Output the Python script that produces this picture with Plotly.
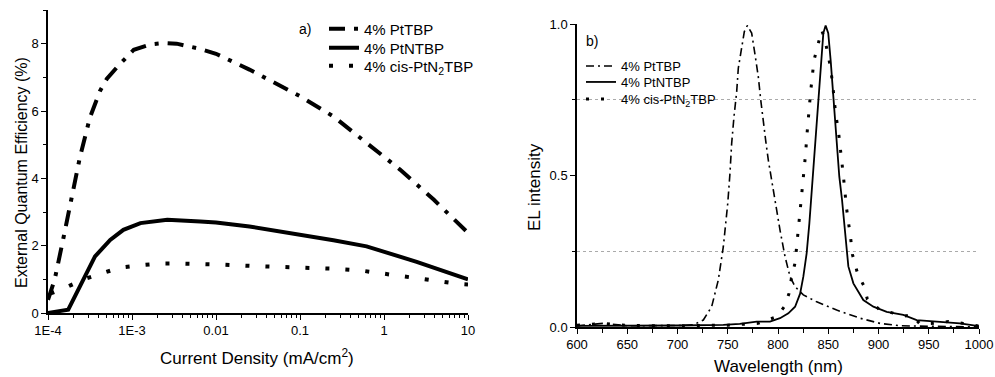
import plotly.graph_objects as go

# ---------------- data: panel a) EQE vs current density ----------------
j_pttbp = [1.0e-4, 1.2e-4, 1.51e-4, 1.91e-4, 2.4e-4, 3.16e-4, 4.17e-4, 5.0e-4, 6.9e-4, 1.05e-3,
           1.66e-3, 2.4e-3, 3.4e-3, 6.3e-3, 0.01, 0.025, 0.1, 0.25, 0.62, 1.55, 3.9, 10]
eqe_pttbp = [0.39, 0.99, 2.17, 3.40, 4.63, 5.81, 6.60, 6.95, 7.35, 7.82,
             7.98, 8.02, 8.0, 7.85, 7.70, 7.23, 6.44, 5.84, 5.05, 4.26, 3.37, 2.38]

j_ptntbp = [1.0e-4, 1.26e-4, 1.74e-4, 2.4e-4, 3.63e-4, 5.5e-4, 7.9e-4, 1.26e-3, 2.63e-3, 6.5e-3,
            0.01, 0.025, 0.1, 0.25, 0.62, 1.0, 2.45, 10]
eqe_ptntbp = [0.0, 0.03, 0.1, 0.79, 1.68, 2.17, 2.47, 2.67, 2.77, 2.72,
              2.69, 2.57, 2.33, 2.16, 1.98, 1.82, 1.52, 1.0]

j_cis = [1.07e-4, 1.58e-4, 2.57e-4, 4.27e-4, 7.2e-4, 1.26e-3, 2.19e-3, 3.7e-3, 6.2e-3, 0.0112,
         0.032, 0.095, 0.28, 0.5, 0.85, 1.48, 2.5, 4.3, 7.4, 10]
eqe_cis = [0.58, 0.74, 0.99, 1.18, 1.35, 1.42, 1.47, 1.47, 1.46, 1.44,
           1.39, 1.36, 1.31, 1.27, 1.19, 1.11, 1.04, 0.94, 0.87, 0.85]

x_tickvals = [1e-4, 1e-3, 0.01, 0.1, 1, 10]
x_ticktext = ["1E-4", "1E-3", "0.01", "0.1", "1", "10"]
x_minor = [m * 10.0 ** e for e in range(-4, 1) for m in range(2, 10)]

# ---------------- data: panel b) EL spectra ----------------
wl_pttbp = [600, 626, 650, 680, 700, 715.7, 725.7, 734, 740.6, 745.6, 750, 752.2, 753.9, 756.2,
            758.9, 760.5, 763.9, 766.5, 769.5, 773.8, 777.1, 780.4, 782.8, 785.4, 788.1, 790.4,
            792.5, 797, 802, 807, 812, 817, 825.2, 838.5, 858.4, 881.6, 901.5, 921.4, 950, 1000]
el_pttbp = [0.004, 0.012, 0.004, 0.004, 0.005, 0.007, 0.023, 0.067, 0.155, 0.265, 0.408, 0.507,
            0.606, 0.694, 0.777, 0.854, 0.93, 0.975, 0.995, 0.97, 0.90, 0.826, 0.75, 0.672, 0.606,
            0.55, 0.507, 0.408, 0.32, 0.232, 0.166, 0.133, 0.106, 0.083, 0.056, 0.029, 0.012,
            0.004, 0.002, 0.0]

wl_ptntbp = [600, 650, 700, 745.6, 762, 778.8, 792, 802, 810.3, 817, 822, 825.2, 828.5, 831.2,
             833.5, 835.1, 836.8, 838.5, 840.1, 842.5, 845.1, 847.4, 850, 852.4, 854.4, 856.7,
             859, 861, 863.7, 866.7, 870, 875, 884.9, 894.9, 908.2, 924.7, 938, 957.9, 981, 1000]
el_ptntbp = [0.004, 0.004, 0.005, 0.007, 0.01, 0.018, 0.018, 0.029, 0.045, 0.067, 0.11, 0.166,
             0.243, 0.342, 0.45, 0.51, 0.595, 0.683, 0.77, 0.88, 0.97, 0.995, 0.97, 0.88, 0.79,
             0.683, 0.573, 0.496, 0.42, 0.31, 0.2, 0.144, 0.089, 0.067, 0.05, 0.04, 0.023, 0.018,
             0.012, 0.003]

wl_cis = [600, 626, 650, 700, 750, 780, 798.7, 806.3, 810.9, 813.6, 817, 818.6, 820.2, 821.9, 823,
          824.6, 825.9, 827.5, 828.5, 829.6, 831.2, 832.5, 835.8, 839.5, 843.5, 846.8, 850, 852.4,
          854.4, 857.5, 860, 862, 865, 868.3, 870.6, 872.4, 874, 876.6, 879.3, 885.6, 888.9,
          900.8, 916.4, 925.7, 933, 941.3, 955, 969.5, 984.4, 1000]
el_cis = [0.006, 0.012, 0.005, 0.004, 0.006, 0.012, 0.034, 0.067, 0.11, 0.166, 0.212, 0.265,
          0.315, 0.37, 0.42, 0.469, 0.518, 0.573, 0.623, 0.674, 0.727, 0.777, 0.88, 0.93, 0.98,
          0.947, 0.90, 0.854, 0.80, 0.70, 0.65, 0.58, 0.50, 0.39, 0.34, 0.29, 0.24, 0.205, 0.175,
          0.135, 0.092, 0.058, 0.045, 0.036, 0.04, 0.01, 0.012, 0.018, 0.012, 0.003]

names = ["4% PtTBP", "4% PtNTBP", "4% cis-PtN<sub>2</sub>TBP"]

W, H = 995, 377
def px(x):
    return x / W
def py(y):
    return (H - y) / H

FONT = "Liberation Sans, Arial, sans-serif"

fig = go.Figure()

# panel a (one legend per row so rows can sit at the reference spacing)
fig.add_trace(go.Scatter(x=j_pttbp, y=eqe_pttbp, mode="lines", name=names[0], showlegend=True,
                         line=dict(color="black", width=4, dash="16px,9px,4px,9px"),
                         xaxis="x", yaxis="y", legend="legend"))
fig.add_trace(go.Scatter(x=j_ptntbp, y=eqe_ptntbp, mode="lines", name=names[1], showlegend=True,
                         line=dict(color="black", width=4),
                         xaxis="x", yaxis="y", legend="legend2"))
fig.add_trace(go.Scatter(x=j_cis, y=eqe_cis, mode="lines", name=names[2], showlegend=True,
                         line=dict(color="black", width=4, dash="4px,16px"),
                         xaxis="x", yaxis="y", legend="legend3"))

# panel b
fig.add_trace(go.Scatter(x=wl_pttbp, y=el_pttbp, mode="lines", name=names[0], showlegend=True,
                         line=dict(color="black", width=1.6, dash="8px,4px,2px,4px"),
                         xaxis="x2", yaxis="y2", legend="legend4"))
fig.add_trace(go.Scatter(x=wl_ptntbp, y=el_ptntbp, mode="lines", name=names[1], showlegend=True,
                         line=dict(color="black", width=1.8),
                         xaxis="x2", yaxis="y2", legend="legend5"))
fig.add_trace(go.Scatter(x=wl_cis, y=el_cis, mode="lines", name=names[2], showlegend=True,
                         line=dict(color="black", width=3, dash="3px,12px"),
                         xaxis="x2", yaxis="y2", legend="legend6"))

axis_common = dict(showline=True, linecolor="black", linewidth=1.5, ticks="outside",
                   tickcolor="black", tickwidth=1.2, showgrid=False, zeroline=False,
                   automargin=False,
                   tickfont=dict(family=FONT, size=13, color="black"))

def leg(x, y, size):
    return dict(x=px(x), y=py(y), xanchor="left", yanchor="middle", visible=True,
                bgcolor="rgba(0,0,0,0)", borderwidth=0,
                font=dict(family=FONT, size=size, color="black"),
                tracegroupgap=0, itemwidth=30)

fig.update_layout(
    width=W, height=H,
    showlegend=True,
    margin=dict(l=0, r=0, t=0, b=0, autoexpand=False),
    paper_bgcolor="white", plot_bgcolor="white",
    font=dict(family=FONT, color="black"),
    xaxis=dict(type="log", range=[-4, 1], domain=[px(48), px(468)], anchor="y",
               tickvals=x_tickvals, ticktext=x_ticktext, ticklen=5,
               minor=dict(tickvals=x_minor, ticks="outside", ticklen=3, tickcolor="black"),
               **axis_common),
    yaxis=dict(range=[0, 9], domain=[py(313), py(10)], anchor="x",
               tick0=0, dtick=2, ticklen=5,
               minor=dict(dtick=1, ticks="outside", ticklen=3, tickcolor="black"),
               **axis_common),
    xaxis2=dict(range=[600, 1000], domain=[px(577), px(979)], anchor="y2",
                tick0=600, dtick=50, ticklen=5,
                minor=dict(dtick=25, ticks="outside", ticklen=4, tickcolor="black"),
                **axis_common),
    yaxis2=dict(range=[0, 1.0], domain=[py(327), py(24)], anchor="x2",
                tick0=0, dtick=0.5, tickformat=".1f", ticklen=5,
                minor=dict(dtick=0.25, ticks="outside", ticklen=3, tickcolor="black",
                           showgrid=True, gridcolor="#aaaaaa", griddash="dot", gridwidth=1),
                **axis_common),
    legend=leg(324, 29, 15),
    legend2=leg(324, 48, 15),
    legend3=leg(324, 66, 15),
    legend4=leg(581, 66, 13),
    legend5=leg(581, 82, 13),
    legend6=leg(581, 99, 13),
    annotations=[
        dict(text="a)", x=px(305), y=py(29), xref="paper", yref="paper", showarrow=False,
             font=dict(family=FONT, size=14, color="black"), xanchor="center", yanchor="middle"),
        dict(text="b)", x=px(592), y=py(41), xref="paper", yref="paper", showarrow=False,
             font=dict(family=FONT, size=14, color="black"), xanchor="center", yanchor="middle"),
        dict(text="External Quantum Efficiency (%)", x=px(21), y=py(173), xref="paper",
             yref="paper", showarrow=False, textangle=-90,
             font=dict(family=FONT, size=16, color="black"), xanchor="center", yanchor="middle"),
        dict(text="Current Density (mA/cm<sup>2</sup>)", x=px(257), y=py(357), xref="paper",
             yref="paper", showarrow=False,
             font=dict(family=FONT, size=17, color="black"), xanchor="center", yanchor="middle"),
        dict(text="EL intensity", x=px(534), y=py(187), xref="paper", yref="paper",
             showarrow=False, textangle=-90,
             font=dict(family=FONT, size=17, color="black"), xanchor="center", yanchor="middle"),
        dict(text="Wavelength (nm)", x=px(778), y=py(366), xref="paper", yref="paper",
             showarrow=False,
             font=dict(family=FONT, size=17, color="black"), xanchor="center", yanchor="middle"),
    ],
)

fig.write_html("out.html")
